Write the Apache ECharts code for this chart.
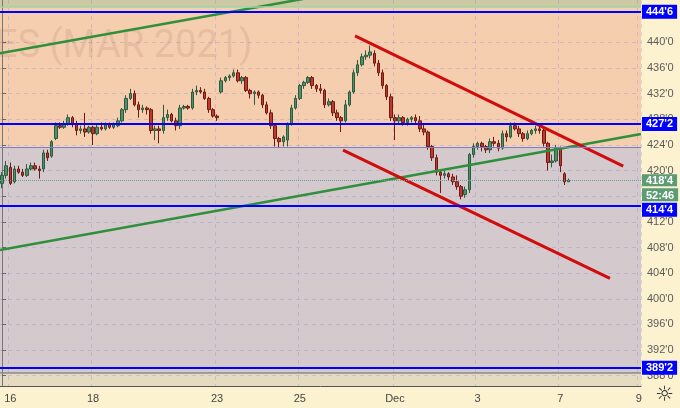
<!DOCTYPE html>
<html>
<head>
<meta charset="utf-8">
<script src="https://cdn.jsdelivr.net/npm/echarts@6/dist/echarts.min.js"></script>
<style>
  html, body { margin: 0; padding: 0; background: #fdf2cf; }
  #chart { width: 680px; height: 408px; }
</style>
</head>
<body>
<div id="chart"></div>
<script>
// ES (MAR 2021) — intraday candles, 16 Nov .. 7 Dec

const slotCount = 155;
const tickIdx = [2, 22, 52, 72, 95, 115, 135, 154];
const tickText = ['16', '18', '23', '25', 'Dec', '3', '7', '9'];

const opens = [
  418, 419.25, 420.5, 418.25, 420.25, 419.75, 419.25, 420.25, 420.75, 420.25,
  420.25, 422.75, 422.25, 425, 427, 426.75, 427.25, 428.25, 427.25, 426.25,
  426.5, 426, 426.75, 425.75, 426.75, 426.5, 427.25, 426.75, 427, 427.75,
  429.5, 431.25, 432, 430.25, 429.5, 429.75, 429.5, 426.25, 426.5, 426.25,
  428.25, 428.75, 427.75, 427, 429.75, 430, 429.75, 432.25, 432.5, 432.25,
  431.25, 429.5, 428.5, 432.25, 434, 434.5, 434.75, 435.25, 434, 434.5,
  432.5, 432, 432.25, 431.75, 430.25, 429, 427, 425, 424.5, 424.75,
  427.25, 429.75, 431.25, 433.25, 433.75, 434.5, 433.25, 432.75, 432.5, 430.25,
  430.75, 429, 428.25, 427.75, 430.25, 432.25, 435.25, 436.5, 437.75, 438,
  438.25, 436.75, 435.25, 433.25, 431.5, 428.25, 427.75, 428.25, 427.5, 428,
  428.25, 427.75, 426.5, 426, 423.75, 422, 419.75, 419.25, 419.5, 419,
  418.25, 417.5, 416.25, 417, 422.5, 423.75, 424.25, 423.75, 423.25, 424.5,
  424.25, 423.5, 425.75, 425.25, 427, 426.5, 425.75, 425, 425.75, 426.25,
  426.5, 426.25, 424.25, 421.25, 421.5, 423.5, 419.5, 418.25
];
const closes = [
  419.25, 420.75, 418, 420.25, 419.75, 419.25, 420.25, 420.75, 420.25, 420,
  422.75, 422, 424.5, 427, 426.75, 427.25, 428.25, 427.25, 426.25, 426.5,
  426, 426.75, 425.75, 426.75, 426.5, 427.25, 426.75, 427.25, 427.75, 429.5,
  431.25, 432, 430.25, 429.5, 429.75, 429.5, 426.25, 426.5, 426.25, 428.25,
  428.75, 427.75, 427, 429.75, 430, 429.75, 432.25, 432.5, 432.25, 431.25,
  429.5, 428.5, 428.25, 434, 434.5, 434.75, 435.25, 434, 434.5, 432.5,
  432, 432.25, 431.75, 430.25, 429, 427, 425, 424.5, 425.25, 427.25,
  429.75, 431.25, 433.25, 433.75, 434.5, 433.25, 432.75, 432.5, 430.25, 430.75,
  429, 428.25, 427.75, 430.25, 432.25, 435.25, 436.5, 437.75, 438, 438.5,
  436.75, 435.25, 433.25, 431.5, 428.25, 427.75, 428.25, 427.5, 428, 428.25,
  427.75, 426.5, 426, 423.75, 422, 419.75, 419.25, 419.5, 419, 418.25,
  417.5, 416, 417, 422.5, 423.75, 424.25, 423.75, 423.25, 424.5, 424.25,
  423.5, 425.75, 425.25, 427, 426.5, 425.75, 425, 425.75, 426.25, 426.5,
  426.25, 424.25, 421.25, 421.5, 423.5, 420.75, 418.25, 418.5
];
const lows = [
  417.25, 418.75, 417.75, 418, 419.5, 419, 419, 420, 420, 418.75,
  419.75, 421.5, 422, 424.75, 426.5, 426.5, 427, 426.75, 425.5, 425.75,
  425.25, 425.75, 424, 425.5, 426.25, 426.25, 426.5, 426.5, 426.75, 427.5,
  429, 431, 430, 428.25, 429, 428.75, 425.75, 424.75, 424.25, 425.75,
  427.75, 427.5, 426.25, 426.5, 429.5, 429.5, 429.5, 431.75, 432, 431,
  429, 428.25, 427.75, 432, 433.75, 434, 434.5, 433.75, 433.5, 432.25,
  431.25, 430.25, 431.25, 429.75, 428.75, 426.5, 423.75, 423.5, 423.75, 423.75,
  427, 429.5, 431, 432.75, 433.5, 432.75, 432.25, 432, 429.75, 430,
  428.5, 427.75, 426, 427.5, 430, 432, 434.75, 436.25, 437.25, 437.5,
  436.25, 434.75, 432.75, 431, 427.75, 424.75, 427.25, 427, 427, 427.5,
  427.25, 426, 425.5, 423.25, 421.5, 419.25, 416.5, 418.75, 418.5, 417.75,
  417, 415.5, 415.75, 416.5, 422, 423.25, 423, 422.75, 422.75, 423.75,
  423, 423.25, 424.5, 425, 426.25, 425.25, 424.5, 424.75, 425.5, 425.75,
  425.75, 423.75, 420, 420.5, 421.25, 419.75, 417.75, 418.25
];
const highs = [
  419.75, 421.5, 421.25, 420.75, 420.75, 420.25, 421, 421.25, 421.25, 420.75,
  423.25, 423.25, 424.75, 427.5, 427.5, 427.75, 428.75, 428.5, 427.75, 427,
  429, 427, 427, 427.25, 427.5, 427.5, 427.5, 427.5, 428.25, 429.75,
  431.75, 432.75, 432.5, 430.75, 430.25, 430, 429.75, 427, 427, 430.25,
  429.5, 429, 428.25, 430.25, 430.25, 430.25, 432.75, 433.25, 433, 432.75,
  431.5, 429.75, 428.75, 434.5, 434.75, 435, 435.75, 435.75, 434.75, 434.75,
  432.75, 432.5, 432.5, 432, 430.75, 429.5, 427.25, 425.25, 425.5, 427.5,
  430.25, 431.75, 433.5, 434, 434.75, 434.75, 433.5, 433.5, 432.75, 431.25,
  431, 429.5, 428.5, 431, 432.5, 435.75, 437.25, 438.25, 438.75, 439.5,
  438.75, 437.25, 435.75, 433.5, 432, 428.75, 428.75, 428.5, 428.25, 428.5,
  428.75, 428.5, 427.25, 426.25, 424, 422.5, 420, 420, 419.75, 419.5,
  419.25, 417.75, 417.5, 422.75, 424.25, 424.5, 424.5, 424, 425, 425.25,
  424.75, 426.25, 426.25, 427.5, 427.5, 427, 426, 426.25, 426.5, 427,
  427, 426.5, 424.5, 422.5, 424, 423.75, 419.75, 418.75
];

const priceTicks = [388, 392, 396, 400, 404, 408, 412, 416, 420, 424, 428, 432, 436, 440];
const levels = [444.75, 427.25, 414.5, 389.25];
const lastPrice = 418.5;
const countdown = '52:46';
// zone edges (price): top strip / peach box / grey box / bottom strip
const zoneEdges = [446.6, 445.5, 423.7, 388.4, 386.4];
// trend lines, [slot, price] end points
const greenLines = [
  [[-0.5, 438.3], [80, 447.6]],
  [[-0.5, 407.6], [154.5, 425.7]]
];
const redLines = [
  [[85.35, 441.0], [150.2, 420.7]],
  [[82.45, 423.2], [147.0, 403.2]]
];

function fmt(v) {
  const whole = Math.floor(v);
  return whole + "'" + Math.round((v - whole) * 8);
}

const cats = [];
for (let i = 0; i < slotCount; i++) {
  const k = tickIdx.indexOf(i);
  cats.push(k >= 0 ? tickText[k] : '');
}
const isTick = (index) => tickIdx.indexOf(index) >= 0;

const candles = opens.map((o, i) => [o, closes[i], lows[i], highs[i]]);

const tag = (bg, dy) => ({
  show: true,
  position: 'end',
  distance: 1,
  offset: [0, dy],
  color: '#fff',
  fontWeight: 'bold',
  fontSize: 11,
  fontFamily: 'Liberation Sans',
  backgroundColor: bg,
  padding: [1, 4, 0, 4],
  lineHeight: 13,
  formatter: (p) => fmt(p.value)
});

// the 414'4 tag is nudged down, clear of the countdown box
const levelLines = levels.map((v) => ({
  yAxis: v,
  lineStyle: { color: '#0000ff', width: 2, type: 'solid' },
  label: tag('#0000ff', v === 414.5 ? 4 : 0)
}));

const chart = echarts.init(document.getElementById('chart'));

const trend = (pts, color, width) => ({
  type: 'line',
  xAxisIndex: 1,
  yAxisIndex: 0,
  data: pts,
  showSymbol: false,
  symbol: 'none',
  silent: true,
  z: 4,
  lineStyle: { color: color, width: width }
});

const greenTag = {
  backgroundColor: '#5c9c74', color: '#fff', fontWeight: 'bold', fontSize: 11,
  fontFamily: 'Liberation Sans', padding: [1, 4, 0, 4], lineHeight: 13
};

chart.setOption({
  animation: false,
  backgroundColor: '#fdf2cf',
  grid: { left: 0, right: 39, top: 0, bottom: 22 },
  graphic: [
    {
      type: 'text', left: -4, top: 28, z: 1, silent: true,
      style: { text: 'ES (MAR 2021)', font: '38px Roboto', fill: 'rgba(150,100,80,0.15)' }
    },
    {
      type: 'text', left: 655, top: 385, z: 10,
      style: { text: '\u263C', font: '21px "DejaVu Sans"', fill: '#333' }
    }
  ],
  xAxis: [
    {
      type: 'category',
      data: cats,
      boundaryGap: true,
      axisLine: { lineStyle: { color: '#555' } },
      axisTick: { alignWithLabel: true, interval: isTick, length: 4, lineStyle: { color: '#555' } },
      axisLabel: { interval: isTick, color: '#444', fontSize: 11, margin: 7, fontFamily: 'Liberation Sans' },
      splitLine: { show: true, interval: isTick, lineStyle: { color: 'rgba(130,130,200,0.28)', type: [4, 4] } }
    },
    { type: 'value', show: false, min: -0.5, max: slotCount - 0.5 }
  ],
  yAxis: {
    type: 'value',
    position: 'right',
    min: zoneEdges[4],
    max: zoneEdges[0],
    axisLine: { show: true, lineStyle: { color: '#777' } },
    axisTick: { show: true, length: 4, customValues: priceTicks, lineStyle: { color: '#666' } },
    axisLabel: {
      customValues: priceTicks, color: '#5a5a5a', fontSize: 11, margin: 6,
      fontFamily: 'Liberation Sans', formatter: (v) => fmt(v)
    },
    splitLine: { show: true, lineStyle: { color: 'rgba(130,130,200,0.28)', type: [4, 4] } }
  },
  series: [
    {
      type: 'candlestick',
      data: candles,
      barWidth: 3,
      z: 3,
      itemStyle: {
        color: '#4e9169', color0: '#c0392f',
        borderColor: '#2d5b40', borderColor0: '#6e1a14', borderWidth: 1
      },
      markArea: {
        silent: true,
        z: -1,
        data: [
          [{ yAxis: zoneEdges[1], itemStyle: { color: '#ccc9a4' } }, { yAxis: zoneEdges[0] }],
          [{ yAxis: zoneEdges[2], itemStyle: { color: '#f5cdaf' } }, { yAxis: zoneEdges[1] }],
          [{ yAxis: zoneEdges[3], itemStyle: { color: '#d4cacd' } }, { yAxis: zoneEdges[2] }],
          [{ yAxis: zoneEdges[4], itemStyle: { color: '#e4dbc1' } }, { yAxis: zoneEdges[3] }]
        ]
      },
      markLine: {
        silent: true,
        symbol: 'none',
        animation: false,
        data: [
          { yAxis: zoneEdges[1], lineStyle: { color: '#9fd6a6', width: 1.5, type: 'solid' }, label: { show: false } },
          { yAxis: zoneEdges[2], lineStyle: { color: '#7c7cc8', width: 1, type: 'solid' }, label: { show: false } },
          { yAxis: zoneEdges[3], lineStyle: { color: '#8a8a8a', width: 1.5, type: 'solid' }, label: { show: false } },
          {
            yAxis: lastPrice,
            lineStyle: { color: '#6f9c9a', width: 1, type: 'dotted' },
            label: {
              show: true, position: 'end', distance: 1, offset: [0, 8],
              formatter: (p) => '{a|' + fmt(p.value) + '}\n{b|' + countdown + '}',
              rich: {
                a: greenTag,
                b: Object.assign({}, greenTag, { lineHeight: 16, padding: [2, 4, 0, 4] })
              }
            }
          }
        ].concat(levelLines)
      }
    },
    trend(greenLines[0], '#2f8f3a', 2.5),
    trend(greenLines[1], '#2f8f3a', 2.5),
    trend(redLines[0], '#d00c0c', 3),
    trend(redLines[1], '#d00c0c', 3)
  ]
});
</script>
</body>
</html>
